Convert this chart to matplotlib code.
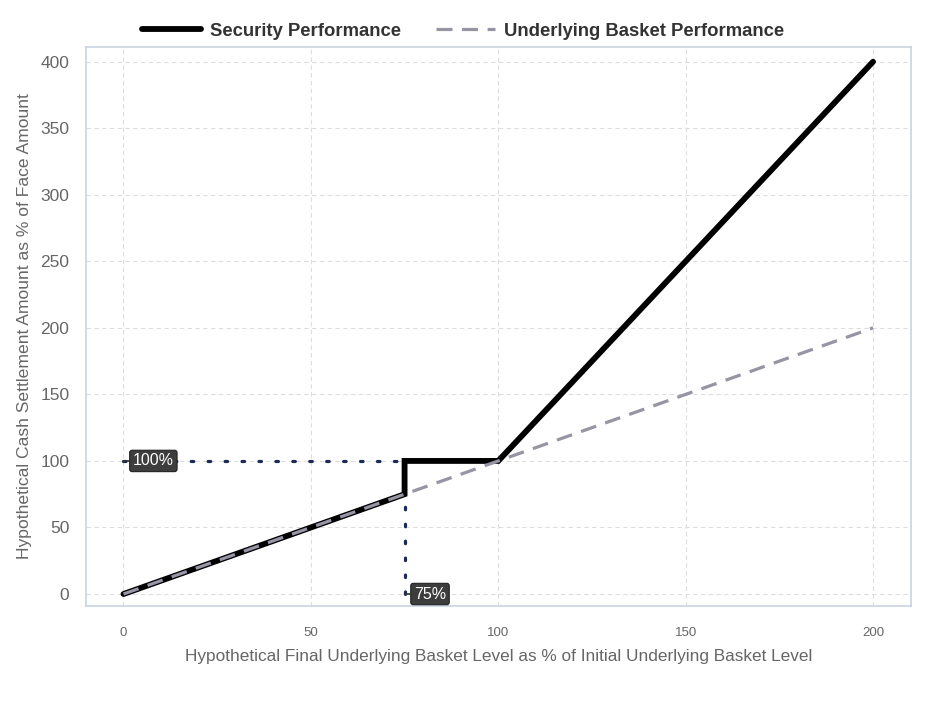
import matplotlib.pyplot as plt

plt.rcParams["font.family"] = ["Liberation Sans", "DejaVu Sans"]

# chart data
basket_level = [0, 75, 75, 100, 200]
security_perf = [0, 75, 100, 100, 400]
underlying_x = [0, 200]
underlying_y = [0, 200]
x_ticks = [0, 50, 100, 150, 200]
y_ticks = [0, 50, 100, 150, 200, 250, 300, 350, 400]
barrier = 75
floor = 100

GRAY_TEXT = "#666666"
fig = plt.figure(figsize=(9.38, 7.03), dpi=100)
ax = fig.add_axes([0.0917, 0.138, 0.879, 0.795])

ax.plot(underlying_x, underlying_y, color="#9595a3", lw=2.3, ls=(0, (5, 3)),
        zorder=4, label="Underlying Basket Performance")
ax.plot(basket_level, security_perf, color="black", lw=4.2, zorder=3,
        solid_joinstyle="miter", solid_capstyle="round", label="Security Performance")

# reference dotted lines
ax.plot([0, barrier], [floor, floor], color="#1c2a55", lw=2.3, ls=(0, (0.8, 4.5)),
        dash_capstyle="round", zorder=2)
ax.plot([barrier, barrier], [0, barrier], color="#1c2a55", lw=2.3, ls=(0, (0.8, 4.5)),
        dash_capstyle="round", zorder=2)

box = dict(boxstyle="round,pad=0.2,rounding_size=0.15", fc="#3d3d3d", ec="#222222", lw=0.8)
ax.annotate("100%", xy=(0, floor), xytext=(2.5, floor), color="white", fontsize=11.5,
            va="center", ha="left", bbox=box, zorder=6,
            arrowprops=dict(arrowstyle="-", color="#333333", lw=1.2, shrinkA=0, shrinkB=0))
ax.annotate("75%", xy=(barrier, 0), xytext=(77.5, 0), color="white", fontsize=11.5,
            va="center", ha="left", bbox=box, zorder=6,
            arrowprops=dict(arrowstyle="-", color="#333333", lw=1.2, shrinkA=0, shrinkB=0))

ax.set_xlim(-10, 210)
ax.set_ylim(-9, 411)
ax.set_xticks(x_ticks)
ax.set_yticks(y_ticks)
ax.tick_params(axis="x", labelsize=9.5, colors=GRAY_TEXT, length=0, pad=15)
ax.tick_params(axis="y", labelsize=12.5, colors=GRAY_TEXT, length=0, pad=12)
ax.grid(True, color="#dddddd", ls=(0, (4, 3)), lw=0.8)
ax.set_axisbelow(True)
for sp in ax.spines.values():
    sp.set_color("#c9d3e0")
    sp.set_linewidth(1.2)

ax.set_xlabel("Hypothetical Final Underlying Basket Level as % of Initial Underlying Basket Level",
              fontsize=12.4, color=GRAY_TEXT, labelpad=7)
ax.set_ylabel("Hypothetical Cash Settlement Amount as % of Face Amount",
              fontsize=12.6, color=GRAY_TEXT, labelpad=6)

handles, labels = ax.get_legend_handles_labels()
leg = fig.legend(handles[::-1], labels[::-1], loc="center", bbox_to_anchor=(0.4936, 1 - 31 / 703),
                 ncol=2, frameon=False, handlelength=3.2, handletextpad=0.5, columnspacing=1.9,
                 prop=dict(weight="bold", size=13.3))
for t in leg.get_texts():
    t.set_color("#333333")

fig.savefig("out.png", dpi=100)
